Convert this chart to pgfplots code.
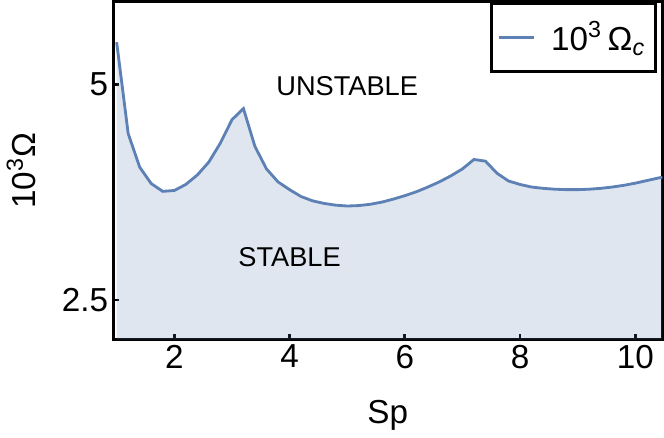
\documentclass[border=0pt]{standalone}
\usepackage{pgfplots}
\pgfplotsset{compat=1.18}
\usepackage{pgfplotstable}
\usepackage{fontspec}
\setmainfont{Liberation Sans}

\definecolor{mblue}{RGB}{94,129,181}

\pgfplotstableread{
x y
1.0 5.49
1.2 4.43
1.4 4.04
1.6 3.85
1.8 3.76
2.0 3.77
2.2 3.84
2.4 3.95
2.6 4.10
2.8 4.32
3.0 4.59
3.2 4.72
3.4 4.28
3.6 4.02
3.8 3.87
4.0 3.78
4.2 3.70
4.4 3.65
4.6 3.62
4.8 3.60
5.0 3.59
5.2 3.595
5.4 3.61
5.6 3.635
5.8 3.67
6.0 3.71
6.2 3.755
6.4 3.81
6.6 3.87
6.8 3.94
7.0 4.02
7.2 4.13
7.4 4.11
7.6 3.97
7.8 3.88
8.0 3.84
8.2 3.81
8.4 3.795
8.6 3.785
8.8 3.78
9.0 3.78
9.2 3.785
9.4 3.795
9.6 3.81
9.8 3.83
10.0 3.855
10.2 3.885
10.47 3.925
}\omegac

\begin{document}
\begin{tikzpicture}
  \begin{axis}[
      scale only axis,
      width=272.5pt, height=167.75pt,
      xmin=0.94, xmax=10.47,
      ymin=2.04, ymax=5.96,
      xtick={2,4,6,8,10},
      ytick={2.5,5},
      yticklabels={2.5,5},
      xtick pos=bottom, ytick pos=left,
      tick align=inside,
      major tick length=3pt,
      axis line style={line width=1.6pt},
      every tick/.style={black, line width=1.3pt},
      /pgf/number format/assume math mode=true,
      ticklabel style={font=\fontsize{16.5}{19}\selectfont},
      yticklabel style={xshift=1pt},
      xticklabel style={yshift=1pt},
      label style={font=\fontsize{16.5}{19}\selectfont},
      xlabel={Sp},
      ylabel={10\textsuperscript{3}Ω},
      xlabel style={yshift=-9pt},
      ylabel style={yshift=6pt},
      legend style={at={(rel axis cs:0.99,1)}, anchor=north east,
        draw=black, line width=1.6pt, font=\fontsize{16.5}{19}\selectfont,
        inner xsep=3pt, inner ysep=7pt},
      legend cell align=left,
  ]
  \addplot[fill=mblue, fill opacity=0.2, draw=none, forget plot]
    table[x=x, y=y] {\omegac} \closedcycle;
  \addplot[color=mblue, line width=1.4pt] table[x=x, y=y] {\omegac};
  \addlegendentry{\hspace{6pt}10\textsuperscript{3}\,Ω\textsubscript{\textit{c}}\hspace{3pt}}
  \node[font=\fontsize{13.5}{16}\selectfont] at (axis cs:5.0,4.98) {UNSTABLE};
  \node[font=\fontsize{13.5}{16}\selectfont] at (axis cs:4.0,3.0) {STABLE};
  \end{axis}
\end{tikzpicture}
\end{document}
